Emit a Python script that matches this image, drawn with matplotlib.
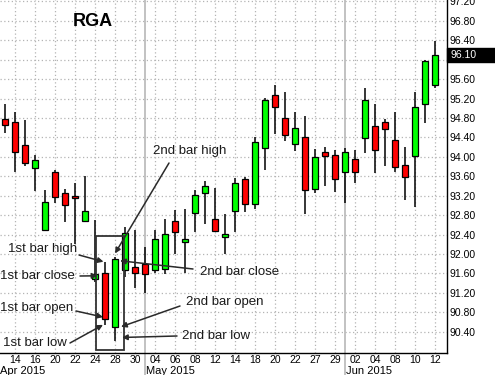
import matplotlib
matplotlib.use('Agg')
import matplotlib.pyplot as plt
import matplotlib.transforms as mtransforms
from matplotlib.patches import Rectangle
import numpy as np

plt.rcParams['font.family'] = ['Liberation Sans', 'DejaVu Sans']

# daily bars, RGA, 13 Apr - 12 Jun 2015
days = [13, 14, 15, 16, 17, 20, 21, 22, 23, 24, 27, 28, 29, 30,
        1, 4, 5, 6, 7, 8, 11, 12, 13, 14, 15, 18, 19, 20, 21, 22, 26, 27, 28, 29,
        1, 2, 3, 4, 5, 8, 9, 10, 11, 12]
months = ['Apr'] * 14 + ['May'] * 20 + ['Jun'] * 10

opens = [94.77, 94.72, 94.24, 93.78, 92.49, 93.68, 93.25, 93.19, 92.68, 91.49,
         91.60, 90.50, 91.66, 91.74, 91.79, 91.67, 91.68, 92.67, 92.24, 92.84,
         93.25, 92.73, 92.34, 92.89, 93.54, 93.02, 94.18, 95.27, 94.81, 94.26,
         94.40, 93.33, 94.09, 94.04, 93.68, 93.95, 94.38, 94.64, 94.71, 94.35,
         93.83, 94.02, 95.08, 95.48]
highs = [95.09, 94.93, 94.76, 94.03, 93.32, 93.73, 93.34, 93.47, 93.61, 92.70,
         91.84, 91.93, 92.56, 92.49, 92.15, 92.49, 92.71, 92.91, 92.92, 93.32,
         93.50, 93.35, 92.82, 93.56, 93.59, 94.40, 95.21, 95.48, 95.34, 94.93,
         94.84, 94.16, 94.20, 94.14, 94.18, 94.14, 95.42, 95.09, 94.78, 94.92,
         94.20, 95.34, 95.99, 96.39]
lows = [94.50, 93.69, 93.81, 93.30, 92.48, 93.04, 92.66, 92.21, 92.67, 91.42,
        90.54, 90.21, 91.53, 91.29, 91.19, 91.60, 91.58, 92.00, 91.60, 92.45,
        92.61, 92.46, 92.00, 92.46, 92.87, 92.93, 93.73, 94.46, 94.33, 94.11,
        92.82, 93.25, 93.39, 93.28, 93.04, 93.47, 94.07, 93.66, 93.82, 93.69,
        93.11, 92.97, 94.69, 95.41]
closes = [94.65, 94.09, 93.87, 93.93, 93.07, 93.17, 93.00, 93.15, 92.88, 91.59,
          90.66, 91.89, 92.43, 91.60, 91.58, 92.30, 92.41, 92.45, 92.30, 93.21,
          93.40, 92.48, 92.41, 93.46, 93.02, 94.31, 95.18, 95.02, 94.44, 94.59,
          93.31, 94.00, 94.02, 93.54, 94.09, 93.69, 95.18, 94.14, 94.57, 93.80,
          93.58, 95.02, 95.97, 96.10]
last_price = 96.10

price_ticks = np.round(np.arange(90.40, 97.21, 0.40), 2)

W, H = 495, 375
fig = plt.figure(figsize=(W / 100, H / 100), dpi=100)
ax = fig.add_axes([0, 22 / H, 447 / W, 353 / H])

def figpx(x, y):
    # figure pixel (from top-left) -> figure fraction
    return (x / W, 1 - y / H)

n = len(days)
xs = np.arange(n)
o = np.array(opens); c = np.array(closes)
hi = np.array(highs); lo = np.array(lows)

grid_col = '#b4b4b4'
for p in price_ticks:
    ax.axhline(p, color=grid_col, lw=0.9, ls=(0, (1, 2)), zorder=0)
for i in xs[1::2]:
    ax.axvline(i, color=grid_col, lw=0.9, ls=(0, (1, 2)), zorder=0)

# month separators
starts = [i for i in range(1, n) if months[i] != months[i - 1]]
for i in starts:
    ax.axvline(i, ymin=-0.07, ymax=1, color='#b8b8b8', lw=1.2, zorder=1, clip_on=False)

ax.vlines(xs, lo, hi, color='black', lw=1.1, zorder=2)
up = c >= o
cols = np.where(up, '#00ff00', '#ff0000')
bottoms = np.minimum(o, c)
heights = np.maximum(np.abs(c - o), 0.03)
ax.bar(xs, heights, bottom=bottoms, width=0.52, color=cols,
       edgecolor='black', linewidth=0.9, zorder=3)

ax.set_xlim(-0.5, 44.2)
ax.set_ylim(89.96, 97.23)

ax.set_xticks(xs[1::2])
ax.set_xticklabels(['%02d' % days[i] for i in xs[1::2]], fontsize=7.5)
ax.yaxis.tick_right()
ax.set_yticks(price_ticks)
# the 96.00 label sits under the last-price tag
ax.set_yticklabels(['' if abs(p - 96.0) < 0.01 else '%.2f' % p for p in price_ticks],
                   fontsize=7.5)
ax.tick_params(axis='both', length=0)
ax.tick_params(axis='x', pad=1.5)
ax.tick_params(axis='y', pad=2)
for s in ['top', 'left']:
    ax.spines[s].set_visible(False)
for s in ['right', 'bottom']:
    ax.spines[s].set_color('black')
    ax.spines[s].set_linewidth(1)

# month labels
trans = mtransforms.blended_transform_factory(ax.transData, ax.transAxes)
ax.text(-0.45, -0.05, 'Apr 2015', transform=trans, fontsize=8, va='center', ha='left')
for i in starts:
    ax.text(i + 0.15, -0.05, months[i] + ' 2015', transform=trans,
            fontsize=8, va='center', ha='left')

# last price tag
ytr = mtransforms.blended_transform_factory(ax.transAxes, ax.transData)
ax.add_patch(Rectangle((1.0, last_price - 0.15), 0.12, 0.30, transform=ytr,
                       facecolor='black', edgecolor='black', clip_on=False, zorder=10))
ax.text(1.008, last_price, '%.2f' % last_price, transform=ytr, color='white',
        fontsize=7.5, va='center', ha='left', zorder=11, clip_on=False)

ax.text(93 / 447, 1 - 21 / 353, 'RGA', transform=ax.transAxes, fontsize=13,
        fontweight='bold', ha='center', va='center')

# two-bar box
ax.add_patch(Rectangle((9.07, 90.02), 2.83, 2.34, fill=False,
                       edgecolor='#333333', lw=1.3, zorder=4))

b1, b2 = 10, 11
notes = [
    ('1st bar high', (8, 249), (79, 255), (b1 - 0.15, highs[b1])),
    ('1st bar close', (0, 276), (80, 276), (9.25, opens[b1] - 0.05)),
    ('1st bar open', (0, 308), (76, 311), (9.8, closes[b1] + 0.04)),
    ('1st bar low', (3, 343), (70, 343), (9.8, lows[b1])),
    ('2nd bar high', (153, 151), (169, 163), (b2, highs[b2] + 0.08)),
    ('2nd bar close', (200, 272), (193, 269), (11.5, closes[b2] - 0.03)),
    ('2nd bar open', (186, 302), (180, 306), (11.6, opens[b2])),
    ('2nd bar low', (182, 336), (177, 336), (11.7, lows[b2] + 0.07)),
]
for label, tpos, tail, tip in notes:
    fig.text(*figpx(*tpos), label, fontsize=9.5, color='#1a1a1a', ha='left', va='center')
    ax.annotate('', xy=tip, xycoords='data', xytext=figpx(*tail),
                textcoords='figure fraction',
                arrowprops=dict(arrowstyle='-|>', color='#2a2a2a', lw=1.1,
                                mutation_scale=8, shrinkA=0, shrinkB=0),
                zorder=6)

fig.savefig('out.png', dpi=100)
